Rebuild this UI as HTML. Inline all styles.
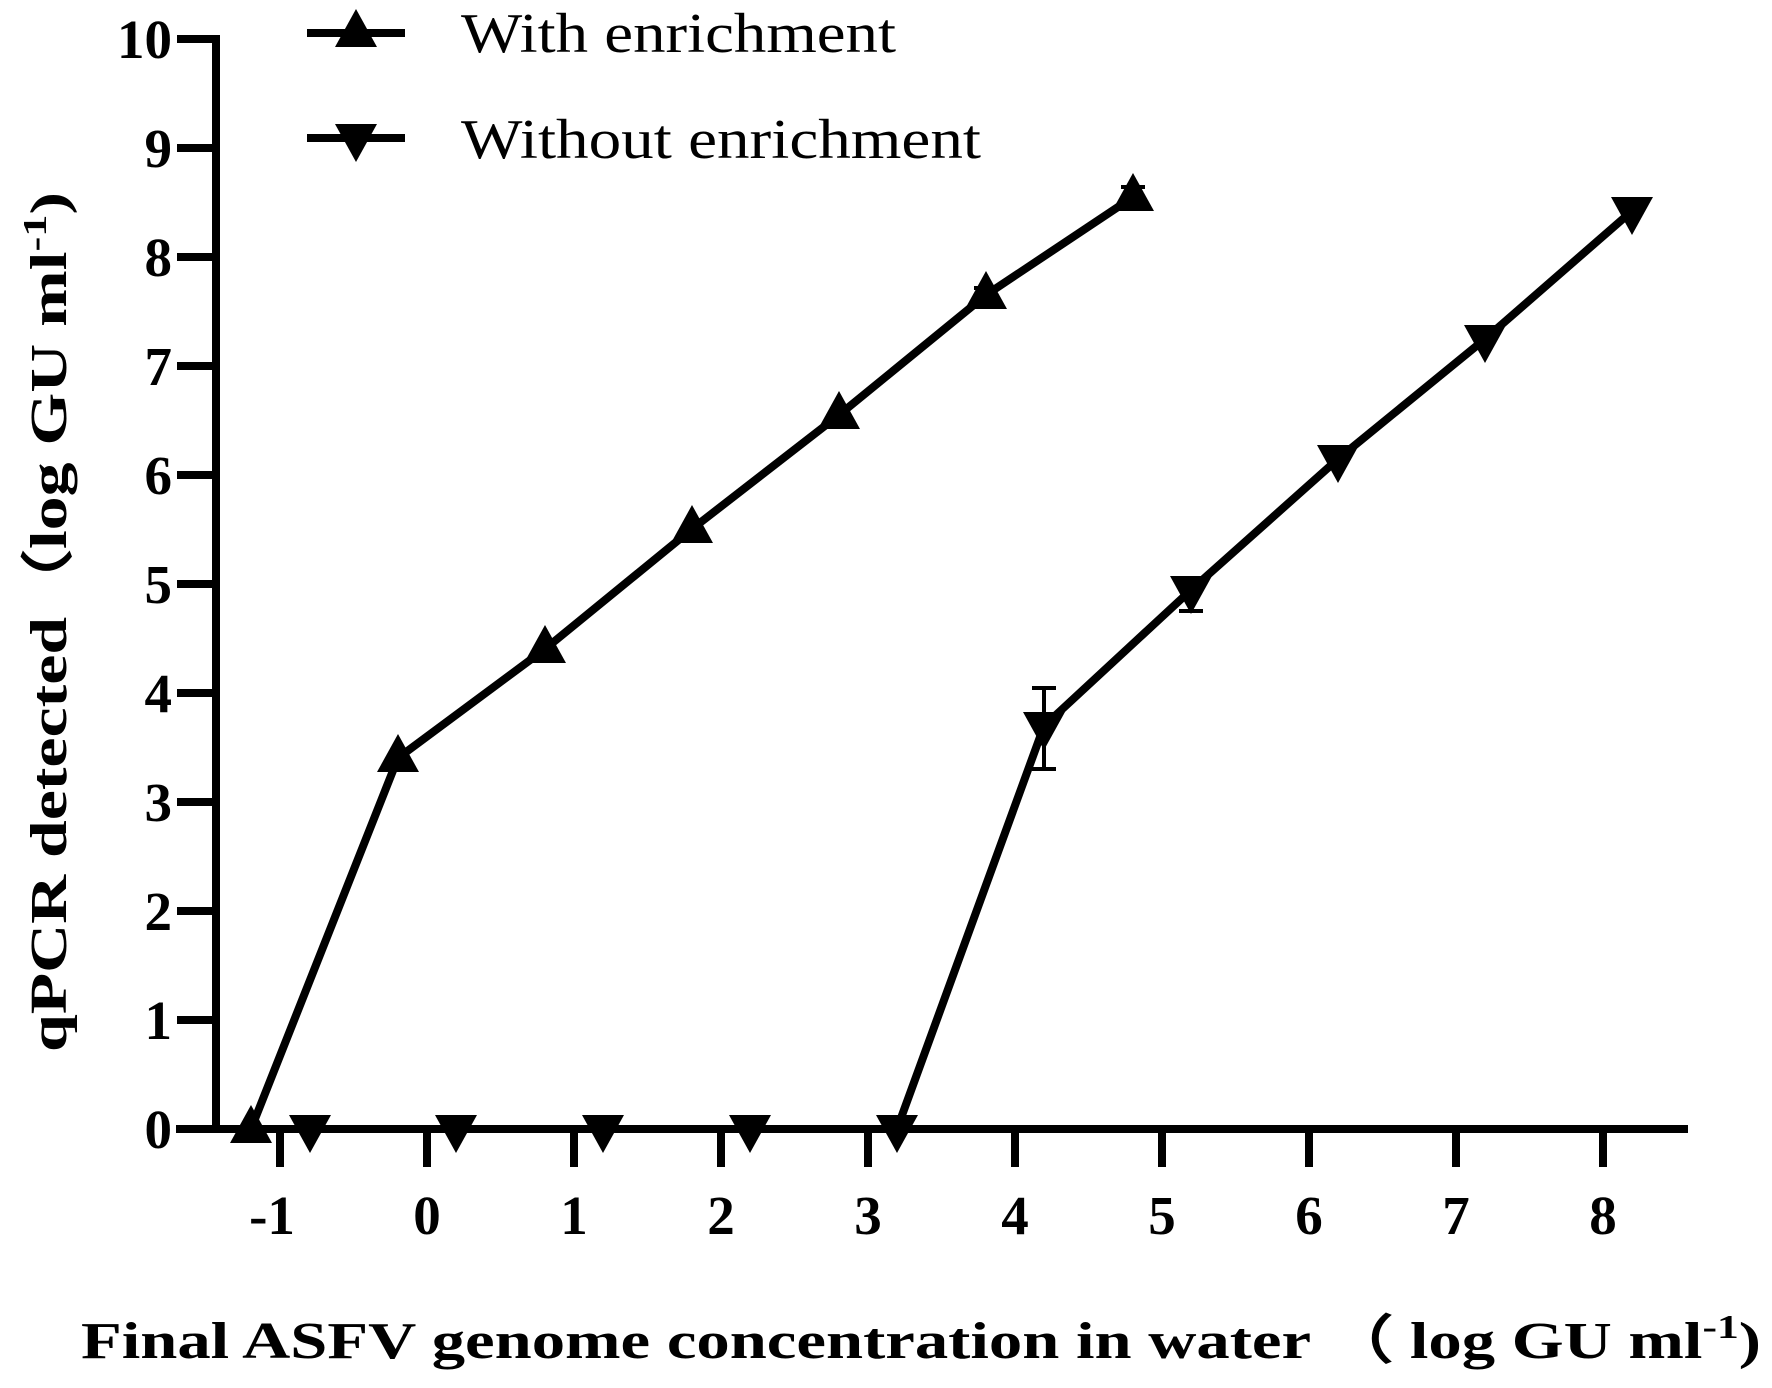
<!DOCTYPE html>
<html><head><meta charset="utf-8"><style>html,body{margin:0;padding:0;background:#fff}</style></head>
<body>
<svg width="1772" height="1383" viewBox="0 0 1772 1383" xmlns="http://www.w3.org/2000/svg" font-family="Liberation Serif, serif">
<defs>
<path id="up" d="M0,-24 L21,14 L-21,14 Z" fill="#000"/>
<path id="dn" d="M0,24 L21,-14 L-21,-14 Z" fill="#000"/>
</defs>
<g stroke="#000" stroke-width="8" fill="none">
<line x1="216" y1="35" x2="216" y2="1129"/>
<line x1="176" y1="1129" x2="1688" y2="1129"/>
<path d="M177,39H216M177,148H216M177,257H216M177,366H216M177,475H216M177,584H216M177,693H216M177,802H216M177,911H216M177,1020H216"/>
<path d="M280,1129V1167M427,1129V1167M574,1129V1167M721,1129V1167M868,1129V1167M1015,1129V1167M1162,1129V1167M1309,1129V1167M1456,1129V1167M1603,1129V1167"/>
</g>
<g font-weight="bold" font-size="55" text-anchor="end" fill="#000">
<text x="172" y="1148">0</text><text x="172" y="1039">1</text><text x="172" y="930">2</text><text x="172" y="821">3</text><text x="172" y="712">4</text><text x="172" y="603">5</text><text x="172" y="494">6</text><text x="172" y="385">7</text><text x="172" y="276">8</text><text x="172" y="167">9</text><text x="172" y="58">10</text>
</g>
<g font-weight="bold" font-size="55" text-anchor="middle" fill="#000">
<text x="272" y="1234">-1</text><text x="427" y="1234">0</text><text x="574" y="1234">1</text><text x="721" y="1234">2</text><text x="868" y="1234">3</text><text x="1015" y="1234">4</text><text x="1162" y="1234">5</text><text x="1309" y="1234">6</text><text x="1456" y="1234">7</text><text x="1603" y="1234">8</text>
</g>
<g stroke="#000" stroke-width="4" fill="none">
<path d="M1044,769V688M1032,688H1056M1032,769H1056"/>
<path d="M1191,611V578M1179,611H1203M1179,578H1203"/>
<path d="M1133,187V200M1121,187H1145"/>
<path d="M986,288V300M974,288H998"/>
</g>
<g stroke="#000" stroke-width="8" fill="none" stroke-linejoin="round">
<polyline points="251,1129 398,758 545,649 692,529 839,415 986,295 1133,197"/>
<polyline points="310,1129 456,1129 603,1129 750,1129 897,1129 1044,726 1191,590 1338,459 1485,339 1632,211"/>
</g>
<g>
<use href="#up" x="251" y="1129"/><use href="#up" x="398" y="758"/><use href="#up" x="545" y="649"/><use href="#up" x="692" y="529"/><use href="#up" x="839" y="415"/><use href="#up" x="986" y="295"/><use href="#up" x="1133" y="197"/>
<use href="#dn" x="310" y="1129"/><use href="#dn" x="456" y="1129"/><use href="#dn" x="603" y="1129"/><use href="#dn" x="750" y="1129"/><use href="#dn" x="897" y="1129"/><use href="#dn" x="1044" y="726"/><use href="#dn" x="1191" y="590"/><use href="#dn" x="1338" y="459"/><use href="#dn" x="1485" y="339"/><use href="#dn" x="1632" y="211"/>
</g>
<g stroke="#000" stroke-width="8"><line x1="307" y1="33" x2="405" y2="33"/><line x1="307" y1="138" x2="405" y2="138"/></g>
<use href="#up" x="356" y="33"/><use href="#dn" x="356" y="138"/>
<g font-size="56" fill="#000">
<text x="461" y="52" textLength="435" lengthAdjust="spacingAndGlyphs">With enrichment</text>
<text x="461" y="158" textLength="520" lengthAdjust="spacingAndGlyphs">Without enrichment</text>
</g>
<text x="81" y="1358" font-size="52" font-weight="bold" fill="#000" textLength="1680" lengthAdjust="spacingAndGlyphs">Final ASFV genome concentration in water （ log GU ml<tspan font-size="34" dy="-20">-1</tspan><tspan dy="20">)</tspan></text>
<text transform="translate(66,622) rotate(-90)" text-anchor="middle" font-size="52" font-weight="bold" fill="#000" textLength="860" lengthAdjust="spacingAndGlyphs">qPCR detected（log GU ml<tspan font-size="34" dy="-20">-1</tspan><tspan dy="20">)</tspan></text>
</svg>
</body></html>
